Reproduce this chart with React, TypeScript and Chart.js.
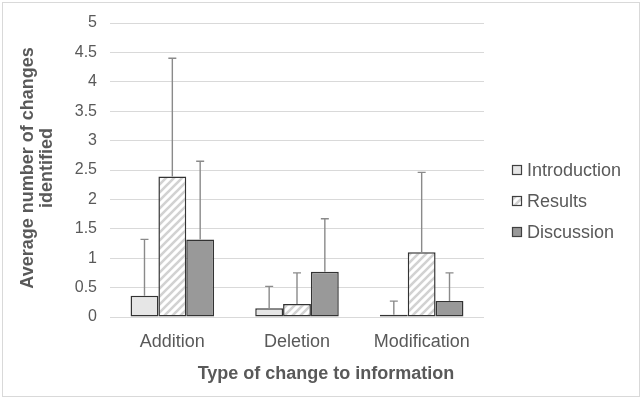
import React, { useEffect, useRef } from 'react';
import { Chart, registerables } from 'chart.js';

Chart.register(...registerables);

const categories = ['Addition', 'Deletion', 'Modification'];
const seriesNames = ['Introduction', 'Results', 'Discussion'];
const introduction = [0.36, 0.15, 0.04];
const results = [2.39, 0.22, 1.1];
const discussion = [1.32, 0.77, 0.27];
const introductionErr = [0.96, 0.37, 0.23];
const resultsErr = [2.01, 0.53, 1.36];
const discussionErr = [1.33, 0.9, 0.48];
const yAxisTitle = ['Average number of changes', 'identified'];
const xAxisTitle = 'Type of change to information';

const FONT = '"Liberation Sans", Arial, sans-serif';
const TEXT = '#595959';

function makeHatch(): CanvasPattern | string {
  const c = document.createElement('canvas');
  const s = 8;
  c.width = s;
  c.height = s;
  const ctx = c.getContext('2d');
  if (!ctx) return '#fff';
  ctx.fillStyle = '#ffffff';
  ctx.fillRect(0, 0, s, s);
  ctx.strokeStyle = '#d2d2d2';
  ctx.lineWidth = 2.6;
  ctx.beginPath();
  ctx.moveTo(-1, s + 1);
  ctx.lineTo(s + 1, -1);
  ctx.moveTo(-s / 2 - 1, s / 2 + 1);
  ctx.lineTo(s / 2 + 1, -s / 2 - 1);
  ctx.moveTo(s / 2 - 1, s * 1.5 + 1);
  ctx.lineTo(s * 1.5 + 1, s / 2 - 1);
  ctx.stroke();
  const p = ctx.createPattern(c, 'repeat');
  return p || '#fff';
}

const errorBarsPlugin = {
  id: 'errorBars',
  afterDatasetsDraw(chart: any) {
    const ctx = chart.ctx;
    const yScale = chart.scales.y;
    ctx.save();
    ctx.strokeStyle = '#8a8a8a';
    ctx.lineWidth = 1.4;
    chart.data.datasets.forEach((ds: any, di: number) => {
      const meta = chart.getDatasetMeta(di);
      const errs: number[] = ds.errors || [];
      meta.data.forEach((bar: any, i: number) => {
        const v = ds.data[i];
        const e = errs[i] || 0;
        const yTop = yScale.getPixelForValue(v + e);
        const yBase = yScale.getPixelForValue(v);
        const x = bar.x;
        ctx.beginPath();
        ctx.moveTo(x, yBase);
        ctx.lineTo(x, yTop);
        ctx.moveTo(x - 4, yTop);
        ctx.lineTo(x + 4, yTop);
        ctx.stroke();
      });
    });
    ctx.restore();
  },
};

const titlesPlugin = {
  id: 'axisTitlesCustom',
  afterDraw(chart: any) {
    const ctx = chart.ctx;
    ctx.save();
    ctx.fillStyle = TEXT;
    ctx.font = `bold 18px ${FONT}`;
    ctx.textAlign = 'center';
    ctx.textBaseline = 'middle';
    const cy = 168;
    yAxisTitle.forEach((line, i) => {
      ctx.save();
      ctx.translate(28 + i * 19.5, cy);
      ctx.rotate(-Math.PI / 2);
      ctx.fillText(line, 0, 0);
      ctx.restore();
    });
    ctx.fillText(xAxisTitle, 326, 374);
    ctx.restore();

    ctx.save();
    ctx.font = `18px ${FONT}`;
    ctx.textAlign = 'left';
    ctx.textBaseline = 'middle';
    const ys = [170, 201, 232];
    chart.data.datasets.forEach((ds: any, i: number) => {
      const y = ys[i];
      ctx.fillStyle = ds.backgroundColor;
      ctx.fillRect(512, y - 5, 10, 10);
      ctx.strokeStyle = '#404040';
      ctx.lineWidth = 1.2;
      ctx.strokeRect(512.5, y - 4.5, 9, 9);
      ctx.fillStyle = TEXT;
      ctx.fillText(ds.label, 527, y + 1);
    });
    ctx.restore();
  },
};

export default function App() {
  const ref = useRef<HTMLCanvasElement | null>(null);

  useEffect(() => {
    if (!ref.current) return;
    const hatch = makeHatch();
    const chart = new Chart(ref.current, {
      type: 'bar',
      data: {
        labels: categories,
        datasets: [
          {
            label: seriesNames[0],
            data: introduction,
            errors: introductionErr,
            backgroundColor: '#e6e6e6',
            borderColor: '#333333',
            borderWidth: 1.5,
            borderSkipped: false,
          } as any,
          {
            label: seriesNames[1],
            data: results,
            errors: resultsErr,
            backgroundColor: hatch,
            borderColor: '#333333',
            borderWidth: 1.5,
            borderSkipped: false,
          } as any,
          {
            label: seriesNames[2],
            data: discussion,
            errors: discussionErr,
            backgroundColor: '#999999',
            borderColor: '#333333',
            borderWidth: 1.5,
            borderSkipped: false,
          } as any,
        ],
      },
      options: {
        responsive: false,
        animation: false,
        devicePixelRatio: 1,
        layout: { padding: { left: 10, top: 23, right: 160, bottom: 10 } },
        datasets: {
          bar: { categoryPercentage: 0.67, barPercentage: 1 },
        },
        plugins: {
          legend: { display: false },
          tooltip: { enabled: false },
        },
        scales: {
          x: {
            grid: { display: false },
            border: { display: false },
            ticks: {
              color: TEXT,
              font: { family: FONT, size: 18 },
              padding: 6,
            },
            afterFit(scale: any) {
              scale.height = 75;
            },
          },
          y: {
            min: 0,
            max: 5,
            ticks: {
              stepSize: 0.5,
              color: TEXT,
              font: { family: FONT, size: 16 },
              padding: 13,
              callback: (v: any) => String(Number(v)),
            },
            grid: { color: '#d9d9d9', lineWidth: 1, drawTicks: false },
            border: { display: false },
            afterFit(scale: any) {
              scale.width = 100;
            },
          },
        },
      } as any,
      plugins: [errorBarsPlugin, titlesPlugin],
    });
    return () => chart.destroy();
  }, []);

  return (
    <div style={{ position: 'absolute', left: 0, top: 0, width: 644, height: 402, background: '#fff' }}>
      <div
        style={{
          position: 'absolute',
          left: 2,
          top: 2,
          width: 638,
          height: 395,
          border: '1px solid #d9d9d9',
          boxSizing: 'border-box',
        }}
      />
      <canvas ref={ref} width={644} height={402} style={{ position: 'absolute', left: 0, top: 0 }} />
    </div>
  );
}
